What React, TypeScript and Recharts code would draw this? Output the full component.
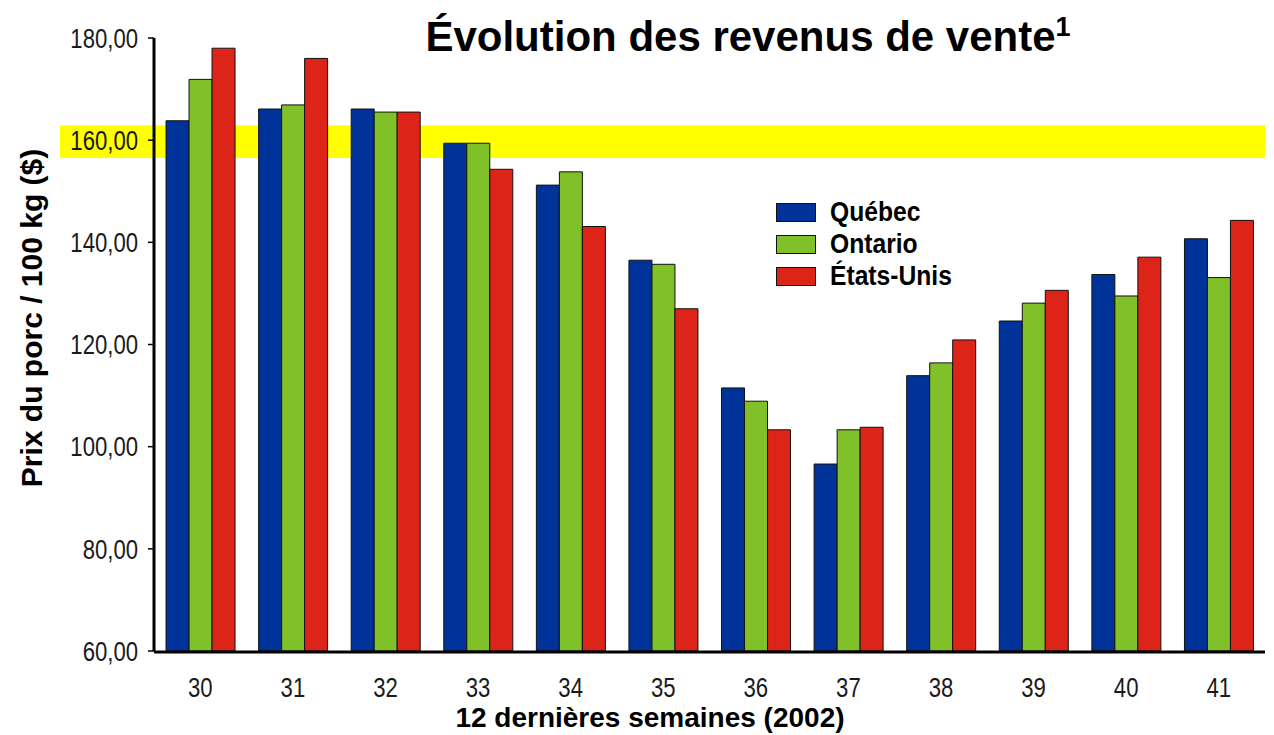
import { BarChart, Bar, XAxis, YAxis, ReferenceArea, Legend } from 'recharts';

const weeks = ['30', '31', '32', '33', '34', '35', '36', '37', '38', '39', '40', '41'];
const quebec = [163.8, 166.1, 166.1, 159.4, 151.2, 136.5, 111.5, 96.6, 113.9, 124.6, 133.7, 140.7];
const ontario = [171.9, 166.9, 165.5, 159.4, 153.8, 135.7, 108.9, 103.3, 116.4, 128.1, 129.5, 133.1];
const etatsUnis = [178.0, 176.0, 165.5, 154.3, 143.1, 127.0, 103.3, 103.8, 120.9, 130.6, 137.1, 144.3];
const yTicks = [60, 80, 100, 120, 140, 160, 180];
const band = [156.5, 162.9];

const series = [
  { key: 'quebec', name: 'Québec', color: '#003399' },
  { key: 'ontario', name: 'Ontario', color: '#80c028' },
  { key: 'etatsUnis', name: 'États-Unis', color: '#dd2418' },
];

const data = weeks.map((week, i) => ({
  week,
  idx: i,
  quebec: quebec[i],
  ontario: ontario[i],
  etatsUnis: etatsUnis[i],
}));

const edgeTicks = [...weeks.map((_, i) => i), weeks.length];

const sans = '"Liberation Sans", Arial, Helvetica, sans-serif';

// no narrow font installed, so squeeze the regular one
function YTick({ x, y, payload }: any) {
  return (
    <g transform={`translate(${x},${y})`}>
      <text transform="scale(0.82,1)" textAnchor="end" dy="0.36em" fontFamily={sans} fontSize={27} fill="#1a1a1a">
        {payload.value.toFixed(2).replace('.', ',')}
      </text>
    </g>
  );
}

function XTick({ x, y, payload }: any) {
  return (
    <g transform={`translate(${x},${y})`}>
      <text transform="scale(0.82,1)" textAnchor="middle" dy="0.71em" fontFamily={sans} fontSize={27} fill="#1a1a1a">
        {payload.value}
      </text>
    </g>
  );
}

function LegendBox() {
  return (
    <div style={{ fontFamily: sans, fontWeight: 'bold', fontSize: 28, color: '#000' }}>
      {series.map((s) => (
        <div key={s.key} style={{ display: 'flex', alignItems: 'center', height: 32 }}>
          <div style={{ width: 38, height: 17, background: s.color, border: '1px solid #111', marginRight: 14 }} />
          <span style={{ lineHeight: '32px', display: 'inline-block', transform: 'scaleX(0.88)', transformOrigin: 'left center' }}>
            {s.name}
          </span>
        </div>
      ))}
    </div>
  );
}

export default function App() {
  return (
    <div style={{ position: 'absolute', left: 0, top: 0, width: 1274, height: 735, background: '#fff' }}>
      <BarChart
        width={1274}
        height={735}
        data={data}
        margin={{ top: 38, right: 9, bottom: 0, left: 0 }}
        barCategoryGap="13%"
        barGap={0}
      >
        <ReferenceArea
          y1={band[0]}
          y2={band[1]}
          xAxisId="cat"
          ifOverflow="visible"
          shape={(p: any) => (
            <rect x={p.x - 94} y={p.y} width={p.width + 94} height={p.height} fill="#ffff00" />
          )}
        />
        {/* category labels: sits next to the plot, labels spill below it */}
        <XAxis
          xAxisId="cat"
          dataKey="week"
          height={1}
          axisLine={false}
          tickLine={false}
          tickMargin={21}
          tick={<XTick />}
        />
        {/* numeric twin only to put tick marks on the category boundaries */}
        <XAxis
          xAxisId="edge"
          type="number"
          dataKey="idx"
          domain={[0, weeks.length]}
          ticks={edgeTicks}
          tick={false}
          tickSize={7}
          height={83}
          axisLine={{ stroke: '#000', strokeWidth: 3 }}
          tickLine={{ stroke: '#000', strokeWidth: 1.5 }}
          label={{
            content: () => (
              <text x={650} y={727} textAnchor="middle" fontFamily={sans} fontWeight="bold" fontSize={28} fill="#000">
                12 dernières semaines (2002)
              </text>
            ),
          }}
        />
        <YAxis
          width={154}
          domain={[60, 180]}
          ticks={yTicks}
          allowDataOverflow
          tickSize={6}
          tickMargin={10}
          tick={<YTick />}
          axisLine={{ stroke: '#000', strokeWidth: 3 }}
          tickLine={{ stroke: '#000', strokeWidth: 1.5 }}
          label={{
            content: () => (
              <text
                x={42}
                y={318}
                transform="rotate(-90 42 318)"
                textAnchor="middle"
                fontFamily={sans}
                fontWeight="bold"
                fontSize={30}
                fill="#000"
              >
                Prix du porc / 100 kg ($)
              </text>
            ),
          }}
        />
        <Legend
          layout="vertical"
          align="center"
          verticalAlign="middle"
          content={() => <LegendBox />}
          wrapperStyle={{ left: 776, top: 196, width: 'auto' }}
        />
        {series.map((s) => (
          <Bar
            key={s.key}
            xAxisId="cat"
            dataKey={s.key}
            name={s.name}
            fill={s.color}
            stroke="#111"
            strokeWidth={1}
            isAnimationActive={false}
          />
        ))}
        <text x={748} y={51} textAnchor="middle" fontFamily={sans} fontWeight="bold" fontSize={42} fill="#000">
          Évolution des revenus de vente
          <tspan fontSize={27} dy={-15}>1</tspan>
        </text>
      </BarChart>
    </div>
  );
}
